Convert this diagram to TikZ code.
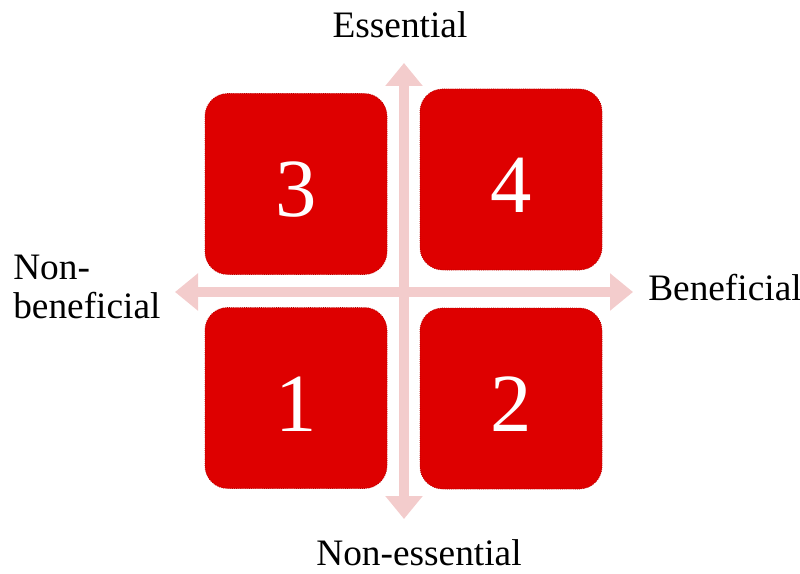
\documentclass[tikz,border=0pt]{standalone}
\usepackage{fontspec}
\setmainfont{Liberation Serif}
\usetikzlibrary{arrows.meta}
\definecolor{quadred}{HTML}{DE0000}
\definecolor{quadedge}{HTML}{B80000}
\definecolor{axispink}{HTML}{F3CCCC}

\begin{document}
\begin{tikzpicture}[x=0.75pt,y=-0.75pt,
  quad/.style={fill=quadred,draw=quadedge,densely dotted,line width=0.6pt,rounded corners=17pt,
    minimum width=136.5pt,minimum height=135.75pt,inner sep=0pt,text=white,
    font=\fontsize{62pt}{64pt}\selectfont,text height=49.5pt,text depth=0pt},
  axis/.style={draw=axispink,line width=7.5pt,{Triangle[width=27pt,length=17.25pt]}-{Triangle[width=27pt,length=17.25pt]}},
  axislabel/.style={inner sep=0pt,font=\fontsize{28pt}{29.25pt}\selectfont}]
      \useasboundingbox (0,0) rectangle (800,574);
      % axes
      \coordinate (west) at (175,292);
      \coordinate (east) at (633,292);
      \coordinate (north) at (404,63);
      \coordinate (south) at (404,519);
      \draw[axis] (west) -- (east);
      \draw[axis] (south) -- (north);
      % quadrants
      \node[quad] (q3) at (296,184) {3};
      \node[quad] (q4) at (511,179.5) {4};
      \node[quad] (q1) at (296,398) {1};
      \node[quad] (q2) at (511,398.5) {2};
      % labels
      \node[axislabel,anchor=base] (ess) at (400,38) {Essential};
      \node[axislabel,anchor=base] (noness) at (419,565) {Non-essential};
      \node[axislabel,anchor=base west] (ben) at (648,300) {Beneficial};
      \node[axislabel,anchor=west,align=left] (nonben) at (13,287) {Non-\\beneficial};
    \end{tikzpicture}
\end{document}
